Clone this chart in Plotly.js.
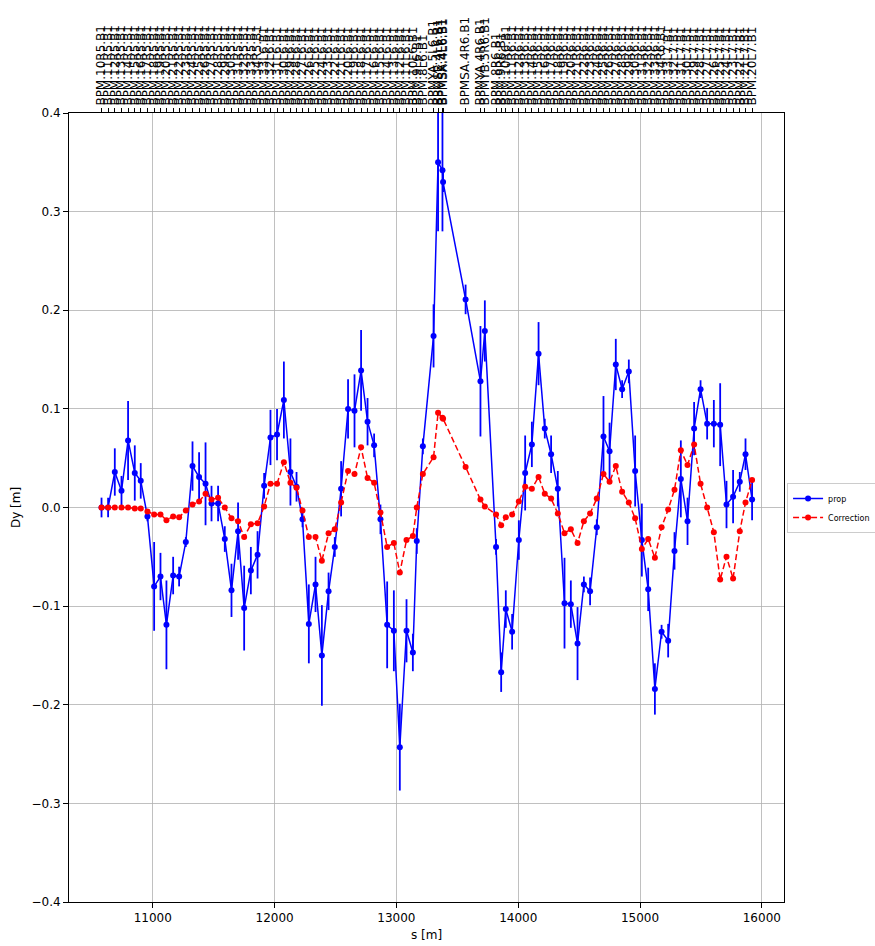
<!DOCTYPE html>
<html>
<head>
<meta charset="utf-8">
<script src="https://cdn.plot.ly/plotly-3.0.1.min.js"></script>
<style>html,body{margin:0;padding:0;background:#fff;}#chart{width:875px;height:946px;}</style>
</head>
<body>
<div id="chart"></div>
<script>
// BPM longitudinal positions s [m]
const sPos = [10579,10633,10688,10743,10797,10852,10901,10956,11011,11063,
  11112,11167,11216,11271,11326,11380,11433,11482,11536,11591,
  11646,11700,11750,11805,11860,11914,11966,12020,12076,12130,
  12180,12229,12281,12336,12388,12443,12494,12546,12603,12656,
  12710,12763,12817,12869,12924,12979,13028,13083,13135,13167,
  13217,13305,13342,13378,13383,13568,13690,13726,13818,13860,
  13898,13950,14005,14057,14112,14167,14218,14270,14325,14380,
  14432,14487,14539,14590,14645,14700,14750,14801,14853,14908,
  14960,15015,15067,15122,15177,15231,15283,15335,15390,15444,
  15497,15551,15606,15658,15710,15764,15819,15866,15920];

// BPM names (top axis tick labels)
const bpmNames = [
  "BPM.10R5.B1","BPM.11R5.B1","BPM.12R5.B1","BPM.13R5.B1","BPM.14R5.B1","BPM.15R5.B1","BPM.16R5.B1","BPM.17R5.B1","BPM.18R5.B1","BPM.19R5.B1",
  "BPM.20R5.B1","BPM.21R5.B1","BPM.22R5.B1","BPM.23R5.B1","BPM.24R5.B1","BPM.25R5.B1","BPM.26R5.B1","BPM.27R5.B1","BPM.28R5.B1","BPM.29R5.B1",
  "BPM.30R5.B1","BPM.31R5.B1","BPM.32R5.B1","BPM.33R5.B1","BPM.34R5.B1","BPM.33L6.B1","BPM.32L6.B1","BPM.31L6.B1","BPM.30L6.B1","BPM.29L6.B1",
  "BPM.28L6.B1","BPM.27L6.B1","BPM.26L6.B1","BPM.25L6.B1","BPM.24L6.B1","BPM.23L6.B1","BPM.22L6.B1","BPM.21L6.B1","BPM.20L6.B1","BPM.19L6.B1",
  "BPM.18L6.B1","BPM.17L6.B1","BPM.16L6.B1","BPM.15L6.B1","BPM.14L6.B1","BPM.13L6.B1","BPM.12L6.B1","BPM.11L6.B1","BPM.10L6.B1","BPM.9L6.B1",
  "BPM.8L6.B1","BPMYA.5L6.B1","BPMSE.4L6.B1","BPMSA.4L6.B1","BPMSX.4L6.B1","BPMSA.4R6.B1","BPMYA.4R6.B1","BPMYB.5R6.B1","BPM.8R6.B1","BPM.9R6.B1",
  "BPM.10R6.B1","BPM.11R6.B1","BPM.12R6.B1","BPM.13R6.B1","BPM.14R6.B1","BPM.15R6.B1","BPM.16R6.B1","BPM.17R6.B1","BPM.18R6.B1","BPM.19R6.B1",
  "BPM.20R6.B1","BPM.21R6.B1","BPM.22R6.B1","BPM.23R6.B1","BPM.24R6.B1","BPM.25R6.B1","BPM.26R6.B1","BPM.27R6.B1","BPM.28R6.B1","BPM.29R6.B1",
  "BPM.30R6.B1","BPM.31R6.B1","BPM.32R6.B1","BPM.33R6.B1","BPM.34R6.B1","BPM.33L7.B1","BPM.32L7.B1","BPM.31L7.B1","BPM.30L7.B1","BPM.29L7.B1",
  "BPM.28L7.B1","BPM.27L7.B1","BPM.26L7.B1","BPM.25L7.B1","BPM.24L7.B1","BPM.23L7.B1","BPM.22L7.B1","BPM.21L7.B1","BPM.20L7.B1"];

// measured vertical dispersion "prop"
const propDy = [0.000,0.000,0.036,0.017,0.068,0.035,0.027,-0.009,-0.080,-0.070,
  -0.119,-0.069,-0.070,-0.035,0.042,0.031,0.024,0.004,0.004,-0.032,
  -0.084,-0.024,-0.102,-0.064,-0.048,0.022,0.071,0.074,0.109,0.036,
  0.021,-0.012,-0.118,-0.078,-0.150,-0.085,-0.040,0.019,0.100,0.098,
  0.139,0.087,0.063,-0.012,-0.119,-0.125,-0.243,-0.125,-0.147,-0.034,
  0.062,0.174,0.350,0.342,0.330,0.211,0.128,0.179,-0.040,-0.167,
  -0.103,-0.126,-0.033,0.035,0.064,0.156,0.080,0.054,0.019,-0.097,
  -0.098,-0.138,-0.078,-0.085,-0.020,0.072,0.057,0.145,0.120,0.138,
  0.037,-0.033,-0.083,-0.184,-0.126,-0.135,-0.044,0.029,-0.014,0.080,
  0.120,0.085,0.085,0.084,0.003,0.011,0.026,0.054,0.008];

// error bars on "prop"
const propErr = [0.010,0.010,0.024,0.015,0.040,0.028,0.018,0.005,0.045,0.024,
  0.045,0.019,0.010,0.005,0.025,0.025,0.042,0.018,0.018,0.013,
  0.027,0.029,0.043,0.024,0.024,0.013,0.028,0.026,0.039,0.034,
  0.015,0.008,0.040,0.028,0.051,0.019,0.010,0.028,0.030,0.037,
  0.041,0.024,0.012,0.015,0.044,0.041,0.044,0.032,0.019,0.013,
  0.008,0.032,0.070,0.062,0.010,0.015,0.056,0.031,0.008,0.020,
  0.019,0.018,0.020,0.038,0.023,0.032,0.010,0.019,0.018,0.046,
  0.024,0.037,0.008,0.014,0.008,0.041,0.029,0.026,0.009,0.012,
  0.036,0.037,0.022,0.026,0.007,0.017,0.019,0.039,0.024,0.027,
  0.009,0.016,0.024,0.042,0.024,0.027,0.010,0.016,0.021];

// "Correction"
const corrDy = [0.000,0.000,0.000,0.000,0.000,-0.001,-0.001,-0.004,-0.007,-0.007,
  -0.013,-0.009,-0.010,-0.003,0.003,0.006,0.014,0.008,0.010,0.000,
  -0.011,-0.014,-0.030,-0.017,-0.016,0.001,0.024,0.024,0.046,0.025,
  0.020,-0.003,-0.030,-0.030,-0.054,-0.026,-0.022,0.005,0.037,0.034,
  0.061,0.030,0.025,-0.005,-0.040,-0.036,-0.066,-0.033,-0.029,0.000,
  0.034,0.051,0.096,0.091,0.090,0.041,0.008,0.001,-0.007,-0.018,
  -0.010,-0.007,0.006,0.021,0.019,0.031,0.014,0.009,-0.006,-0.026,
  -0.022,-0.036,-0.014,-0.006,0.009,0.034,0.026,0.042,0.016,0.005,
  -0.011,-0.042,-0.032,-0.051,-0.020,-0.002,0.018,0.058,0.043,0.064,
  0.024,0.000,-0.025,-0.073,-0.050,-0.072,-0.024,0.005,0.028];

const yTicks = [-0.4,-0.3,-0.2,-0.1,0.0,0.1,0.2,0.3,0.4];
const xTicks = [11000,12000,13000,14000,15000,16000];

const xRange = [10312, 16182];
const font = {family: "DejaVu Sans, sans-serif", size: 12, color: "#000"};

const traces = [
  {
    x: sPos, y: propDy, name: "prop", type: "scatter", mode: "lines+markers",
    line: {color: "#0000ff", width: 1.5},
    marker: {color: "#0000ff", size: 6},
    error_y: {type: "data", array: propErr, visible: true, color: "#0000ff", thickness: 1.8, width: 0}
  },
  {
    x: sPos, y: corrDy, name: "Correction", type: "scatter", mode: "lines+markers",
    line: {color: "#ff0000", width: 1.5, dash: "6px,3px"},
    marker: {color: "#ff0000", size: 6}
  },
  {
    x: sPos, y: corrDy, xaxis: "x2", yaxis: "y", type: "scatter", mode: "markers",
    marker: {opacity: 0}, showlegend: false, hoverinfo: "skip"
  }
];

const layout = {
  width: 875, height: 946,
  margin: {l: 69, r: 91, t: 113, b: 44, autoexpand: false},
  paper_bgcolor: "#fff", plot_bgcolor: "#fff",
  font: font,
  showlegend: true,
  legend: {
    xref: "container", yref: "container",
    x: 0.8995, xanchor: "left", y: 0.463, yanchor: "middle",
    bgcolor: "rgba(255,255,255,0.8)", bordercolor: "#cccccc", borderwidth: 1,
    font: {family: "DejaVu Sans, sans-serif", size: 8, color: "#000"},
    itemwidth: 30, tracegroupgap: 0
  },
  xaxis: {
    range: xRange, tickmode: "array", tickvals: xTicks, ticktext: xTicks.map(String),
    showgrid: true, gridcolor: "#b0b0b0", gridwidth: 0.8, zeroline: false,
    showline: true, linecolor: "#000", linewidth: 1, mirror: false,
    ticks: "outside", ticklen: 5, tickwidth: 1, tickcolor: "#000",
    title: {text: "s [m]", font: font, standoff: 6},
    tickfont: font, automargin: false
  },
  xaxis2: {
    overlaying: "x", side: "top", range: xRange, matches: "x",
    tickmode: "array", tickvals: sPos, ticktext: bpmNames, tickangle: -90,
    showgrid: false, zeroline: false, showline: true, linecolor: "#000", linewidth: 1,
    ticks: "outside", ticklen: 4, tickwidth: 1, tickcolor: "#000",
    tickfont: {family: "DejaVu Sans, sans-serif", size: 12, color: "#000"},
    automargin: false
  },
  yaxis: {
    range: [-0.4, 0.4], tickmode: "array", tickvals: yTicks, ticktext: yTicks.map(v => (v < 0 ? "\u2212" : "") + Math.abs(v).toFixed(1)),
    showgrid: true, gridcolor: "#b0b0b0", gridwidth: 0.8, zeroline: false,
    showline: true, linecolor: "#000", linewidth: 1, mirror: true,
    ticks: "outside", ticklen: 5, tickwidth: 1, tickcolor: "#000",
    title: {text: "Dy [m]", font: font, standoff: 8},
    tickfont: font, automargin: false
  }
};

Plotly.newPlot("chart", traces, layout, {displayModeBar: false, staticPlot: true});
</script>
</body>
</html>
